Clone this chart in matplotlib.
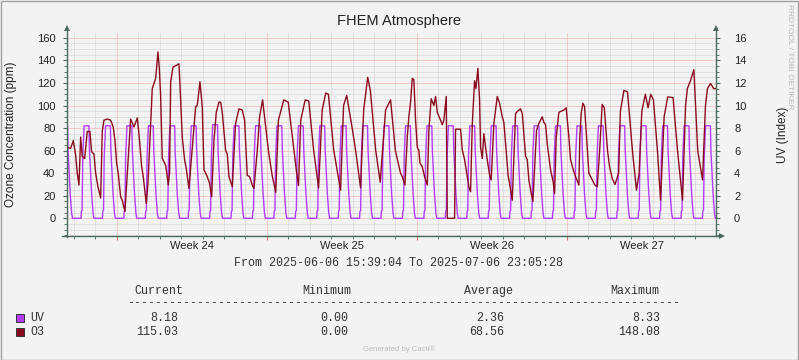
import numpy as np
import pandas as pd
import matplotlib
matplotlib.use("Agg")
import matplotlib.pyplot as plt

W, H = 799, 360
t_begin = pd.Timestamp("2025-06-06 15:39:04")
t_end = pd.Timestamp("2025-07-06 23:05:28")
day0 = pd.Timestamp("2025-06-06 00:00")

# O3 (ppm), hours counted from 2025-06-06 00:00
o3_hours = [15.6, 20.3, 23.3, 25.9, 27.7, 29.6, 31.5, 33.3, 36.0, 37.1, 38.9, 41.9, 43.8, 46.4, 48.3,
            50.9, 53.9, 55.7, 57.6, 61.3, 65.1, 68.0, 69.9, 71.8, 73.6, 76.3, 78.1, 81.1, 87.5, 91.2,
            95.0, 97.2, 99.8, 101.6, 105.0, 106.9, 111.7, 115.5, 118.1, 119.6, 121.1, 122.9, 125.5,
            127.0, 129.6, 131.1, 132.3, 134.9, 141.6, 143.5, 145.3, 147.9, 149.8, 152.8, 158.4, 160.3,
            162.1, 165.1, 167.7, 169.6, 173.3, 175.9, 178.2, 180.8, 183.4, 186.4, 188.3, 190.1, 193.9,
            195.7, 197.6, 201.3, 205.0, 208.8, 212.5, 215.1, 218.1, 220.7, 223.7, 225.6, 229.3, 231.9,
            235.3, 241.8, 246.0, 250.0, 253.0, 259.0, 264.0, 269.0, 273.0, 275.5, 278.0, 283.0, 287.0,
            292.5, 298.0, 302.0, 306.0, 309.0, 315.0, 322.6, 326.0, 329.5, 336.0, 339.5, 345.0, 348.5,
            353.0, 356.0, 362.0, 367.0, 373.0, 378.6, 384.0, 389.8, 391.7, 394.7, 397.3, 399.1, 401.0,
            402.9, 404.7, 406.6, 408.5, 410.3, 411.5, 414.0, 416.7, 419.7, 421.5, 424.1, 427.1, 429.0,
            430.9, 434.6, 436.5, 438.3, 441.0, 442.1, 450.3, 451.4, 457.0, 458.9, 461.5, 464.5, 466.3,
            468.2, 470.1, 472.7, 474.2, 476.4, 478.3, 479.4, 481.3, 483.1, 485.0, 486.9, 489.8, 491.3,
            494.3, 498.1, 500.7, 503.7, 505.5, 508.5, 510.4, 511.9, 514.9, 518.6, 522.3, 524.2, 526.1,
            529.8, 531.7, 533.5, 536.1, 538.0, 542.1, 544.7, 548.5, 550.3, 552.2, 554.1, 557.8, 560.8,
            562.3, 564.1, 567.1, 572.7, 575.3, 578.3, 580.2, 583.2, 585.8, 589.5, 590.6, 592.1, 594.0,
            595.9, 598.1, 600.7, 602.6, 607.4, 610.1, 613.0, 615.6, 618.0, 621.6, 624.0, 627.0, 630.0,
            634.0, 636.0, 640.0, 644.0, 649.5, 654.0, 657.0, 660.0, 664.0, 667.0, 670.0, 673.0, 677.5,
            681.0, 685.0, 689.0, 695.0, 700.0, 705.6, 709.0, 711.0, 714.5, 718.3, 722.6, 728.0, 731.3,
            733.5, 737.0, 740.5, 743.1]
o3_ppm = [63, 62, 69, 56, 40, 29.5, 72, 55, 53, 62, 77, 77, 59, 57, 40,
          28, 18, 77, 87, 88, 87, 81, 69, 49, 40, 19, 16, 6, 88, 81,
          89, 71, 46, 37, 13, 31, 115, 124, 147.5, 133, 108, 53, 49,
          46, 29.5, 40, 121, 134, 137, 105, 72, 52, 44, 26.5, 81, 99,
          100, 121, 99, 43, 37, 31, 19, 69, 94, 103, 103, 94, 60,
          57, 37, 28, 84, 97, 96, 87, 38, 37, 29.5, 26.5, 60, 90,
          105, 60, 38, 23, 87, 105, 103, 70, 43, 29, 87, 105, 104,
          60, 27, 96, 111, 110, 60, 25, 100, 109, 78, 60, 27, 96,
          125, 113, 60, 32, 96, 105, 60, 40, 37, 29.5, 72, 90, 103,
          124, 123, 87, 63, 60, 49, 46, 37, 29.5, 78, 106, 100, 108,
          94, 87, 83, 87, 108, 0, 0, 79, 79, 61, 52, 37, 28,
          23.6, 83, 122, 115, 133, 105, 63, 53, 75, 63, 52, 37, 34,
          84, 108, 102, 90, 85, 56, 37, 31, 16, 93, 96, 97, 93,
          55, 52, 34, 22, 15, 78, 84, 90, 85, 83, 66, 43, 32,
          22, 71, 94, 96, 98, 72, 52, 43, 37, 29.5, 72, 93, 102,
          99, 72, 40, 37, 29.5, 28, 63, 101, 98, 60, 45, 35, 30,
          40, 95, 113.5, 112, 60, 25, 40, 95, 110, 98, 110, 105, 60,
          16, 90, 107.6, 107, 60, 16, 100, 115, 122, 131.8, 60, 34, 100,
          115, 119.5, 115, 115.03]

# UV index, knots at fixed hours of each day (2025-06-06 .. 2025-07-06)
uv_knot_hours = [7.9, 8.3, 9.1, 9.9, 11.4, 16.8, 17.4, 19.8, 21.4, 22.4]
uv_days = [
    [0, 0.6, 0.7, 5.5, 8.2, 8.2, 6.0, 2.2, 0.45, 0],
    [0, 0.6, 0.7, 5.5, 8.2, 8.2, 6.0, 2.2, 0.45, 0],
    [0, 0.6, 0.7, 5.5, 8.2, 8.2, 6.0, 2.2, 0.45, 0],
    [0, 0.6, 0.7, 5.5, 8.2, 8.2, 6.0, 2.2, 0.45, 0],
    [0, 0.6, 0.7, 5.5, 8.2, 8.2, 6.0, 2.2, 0.45, 0],
    [0, 0.6, 0.7, 5.3, 8.2, 8.2, 5.8, 2.0, 0.45, 0],
    [0, 0.6, 0.7, 5.5, 8.2, 8.2, 6.0, 2.2, 0.45, 0],
    [0, 0.6, 0.7, 5.5, 8.3, 8.3, 6.0, 2.2, 0.45, 0],
    [0, 0.6, 0.7, 5.5, 8.2, 8.2, 6.0, 2.2, 0.45, 0],
    [0, 0.6, 0.7, 5.5, 8.2, 8.2, 6.0, 2.2, 0.45, 0],
    [0, 0.6, 0.7, 5.5, 8.2, 8.2, 6.0, 2.2, 0.45, 0],
    [0, 0.6, 0.7, 5.5, 8.2, 8.2, 6.0, 2.2, 0.45, 0],
    [0, 0.6, 0.7, 5.5, 8.2, 8.2, 6.0, 2.2, 0.45, 0],
    [0, 0.6, 0.7, 5.5, 8.2, 8.2, 6.0, 2.2, 0.45, 0],
    [0, 0.6, 0.7, 5.5, 8.2, 8.2, 6.0, 2.2, 0.45, 0],
    [0, 0.6, 0.7, 5.5, 8.2, 8.2, 6.0, 2.2, 0.45, 0],
    [0, 0.6, 0.7, 5.5, 8.2, 8.2, 6.0, 2.2, 0.45, 0],
    [0, 0.6, 0.7, 5.5, 8.2, 8.2, 6.0, 2.2, 0.45, 0],
    [0, 0.6, 0.7, 5.5, 8.2, 8.2, 6.0, 2.2, 0.45, 0],
    [0, 0.6, 0.7, 5.5, 8.2, 8.2, 6.0, 2.2, 0.45, 0],
    [0, 0.6, 0.7, 5.5, 8.2, 8.2, 6.0, 2.2, 0.45, 0],
    [0, 0.6, 0.7, 5.5, 8.2, 8.2, 6.0, 2.2, 0.45, 0],
    [0, 0.6, 0.7, 5.5, 8.2, 8.2, 6.0, 2.2, 0.45, 0],
    [0, 0.6, 0.7, 5.5, 8.2, 8.2, 6.0, 2.2, 0.45, 0],
    [0, 0.6, 0.7, 5.5, 8.2, 8.2, 6.0, 2.2, 0.45, 0],
    [0, 0.6, 0.7, 5.5, 8.2, 8.2, 6.0, 2.2, 0.45, 0],
    [0, 0.6, 0.7, 5.5, 8.2, 8.2, 6.0, 2.2, 0.45, 0],
    [0, 0.6, 0.7, 5.5, 8.2, 8.2, 6.0, 2.2, 0.45, 0],
    [0, 0.6, 0.7, 5.5, 8.2, 8.2, 6.0, 2.2, 0.45, 0],
    [0, 0.6, 0.7, 5.5, 8.2, 8.2, 6.0, 2.2, 0.45, 0],
    [0, 0.6, 0.7, 5.5, 8.2, 8.2, 6.0, 2.2, 0.45, 0],
]

week_starts = ["2025-06-09", "2025-06-16", "2025-06-23", "2025-06-30"]
week_labels = ["Week 24", "Week 25", "Week 26", "Week 27"]

legend_names = ["UV", "O3"]
legend_current = ["8.18", "115.03"]
legend_minimum = ["0.00", "0.00"]
legend_average = ["2.36", "68.56"]
legend_maximum = ["8.33", "148.08"]

c_uv = "#B23CFF"
c_o3 = "#8A0A1E"
c_axis = "#4A6B5C"
c_grid = "#CFCFCF"
c_mgrid = "#F2A2A2"
c_text = "#222222"
sans = "Liberation Sans"
mono = "Liberation Mono"

o3_t = day0 + pd.to_timedelta(o3_hours, unit="h")
uv_t, uv_v = [], []
for d, vals in enumerate(uv_days):
    for hh, v in zip(uv_knot_hours, vals):
        uv_t.append(day0 + pd.Timedelta(days=d, hours=hh))
        uv_v.append(v)

fig = plt.figure(figsize=(W / 100, H / 100), dpi=100, facecolor="#F3F3F3")
ax = fig.add_axes([66.5 / W, 1 - 236 / H, (716 - 66.5) / W, (236 - 33) / H])
ax2 = ax.twinx()

ylo, yhi = -15.7, 164.3
ax.set_ylim(ylo, yhi)
ax2.set_ylim(ylo / 10, yhi / 10)
ax.set_xlim(t_begin, t_end)

# background + grid on ax2 (drawn below everything of ax)
ax2.patch.set_facecolor("white")
ax.patch.set_visible(False)
ax.set_zorder(ax2.get_zorder() + 1)

days = pd.date_range("2025-06-07", "2025-07-06", freq="D")
weeks = pd.to_datetime(week_starts)
gkw = dict(lw=0.72, ls=(0, (1, 1)))
for d in days:
    if d not in weeks:
        ax2.axvline(d, color=c_grid, zorder=0, **gkw)
for y in np.arange(-15, 165, 5):
    if y % 20:
        ax2.axhline(y / 10, color=c_grid, zorder=0, **gkw)
for d in weeks:
    ax2.axvline(d, color=c_mgrid, zorder=0.5, **gkw)
for y in range(0, 161, 20):
    ax2.axhline(y / 10, color=c_mgrid, zorder=0.5, **gkw)

ax2.plot(uv_t, uv_v, color=c_uv, lw=1.0, zorder=2)
ax.plot(o3_t, o3_ppm, color=c_o3, lw=1.0, zorder=3)

for a in (ax, ax2):
    for s in a.spines.values():
        s.set_visible(False)

ax.set_yticks(range(0, 161, 20))
ax.set_yticks(np.arange(-15, 165, 5), minor=True)
ax.tick_params(axis="y", which="major", length=3, color=c_axis, pad=5,
               labelsize=8, labelcolor=c_text)
ax.tick_params(axis="y", which="minor", length=2, color=c_axis)
for lab in ax.get_yticklabels():
    lab.set_family(sans)

ax2.set_yticks(range(0, 17, 2))
ax2.set_yticks(np.arange(-1.5, 16.5, 0.5), minor=True)
ax2.tick_params(axis="y", which="major", length=3, color=c_axis, pad=10,
                labelsize=8, labelcolor=c_text)
ax2.tick_params(axis="y", which="minor", length=2, color=c_axis)
for lab in ax2.get_yticklabels():
    lab.set_family(sans)

ax.set_xticks(weeks)
ax.set_xticks(days, minor=True)
ax.xaxis.set_major_formatter(plt.NullFormatter())
ax.tick_params(axis="x", which="major", length=3, color="#E07070")
ax.tick_params(axis="x", which="minor", length=2, color=c_axis)
for d, lab in zip(weeks, week_labels):
    ax.text(d + pd.Timedelta(days=3.5), -0.05, lab, transform=ax.get_xaxis_transform(),
            ha="center", va="center", fontsize=8, family=sans, color=c_text)

# axis lines with arrows
kw = dict(transform=ax.transAxes, clip_on=False, color=c_axis, lw=1.0, zorder=5)
ax.plot([0, 0], [-0.003, 1.02], **kw)
ax.plot([1, 1], [0, 1.02], **kw)
ax.plot([-0.007, 1.008], [0, 0], **kw)
mk = dict(transform=ax.transAxes, clip_on=False, color=c_axis, ms=4.5, zorder=6, mew=0)
ax.plot([0], [1.025], marker="^", **mk)
ax.plot([1], [1.025], marker="^", **mk)
ax.plot([1.01], [0], marker=">", **mk)

ax.set_ylabel("Ozone Concentration (ppm)", fontsize=8.5, family=sans, color=c_text, labelpad=14)
ax2.set_ylabel("UV (Index)", fontsize=8.5, family=sans, color=c_text, labelpad=22)


def px(x, y):
    return x / W, 1 - y / H


fig.text(*px(399, 21), "FHEM Atmosphere", ha="center", va="center", fontsize=10.5,
         family=sans, color=c_text)
fig.text(*px(790, 57), "RRDTOOL / TOBI OETIKER", rotation=270, ha="center", va="center",
         fontsize=6, family=sans, color="#B8B8B8")
fig.text(*px(399, 263),
         "From " + t_begin.strftime("%Y-%m-%d %H:%M:%S") + " To " + t_end.strftime("%Y-%m-%d %H:%M:%S"),
         ha="center", va="center", fontsize=8.4, family=mono, color="#333333")

# legend table
hdr = [("Current", 159), ("Minimum", 327), ("Average", 488), ("Maximum", 635)]
for name, x in hdr:
    fig.text(*px(x, 291), name, ha="center", va="center", fontsize=8.4, family=mono, color="#333333")
fig.text(*px(404, 303), "-" * 79, ha="center", va="center", fontsize=8.4, family=mono, color="#333333")
cols = [(legend_current, 178), (legend_minimum, 348), (legend_average, 504), (legend_maximum, 660)]
for i, (name, col) in enumerate(zip(legend_names, [c_uv, c_o3])):
    y = 318 + 14 * i
    fig.patches.append(plt.Rectangle(px(15.5, y + 4), 8 / W, 8 / H, transform=fig.transFigure,
                                     facecolor=col, edgecolor="#333333", lw=0.7))
    fig.text(*px(30, y), name, ha="left", va="center", fontsize=8.4, family=mono, color="#333333")
    for vals, x in cols:
        fig.text(*px(x, y), vals[i], ha="right", va="center", fontsize=8.4, family=mono, color="#333333")

fig.text(*px(399, 349), "Generated by Cacti\u00ae", ha="center", va="center", fontsize=5.5,
         family=sans, color="#BBBBBB")

# outer frame
fig.patches.append(plt.Rectangle((0.5 / W, 0.5 / H), 1 - 1.5 / W, 1 - 1.5 / H, transform=fig.transFigure,
                                 fill=False, edgecolor="#A0A0A0", lw=1))

fig.savefig("out.png", dpi=100, facecolor=fig.get_facecolor())
